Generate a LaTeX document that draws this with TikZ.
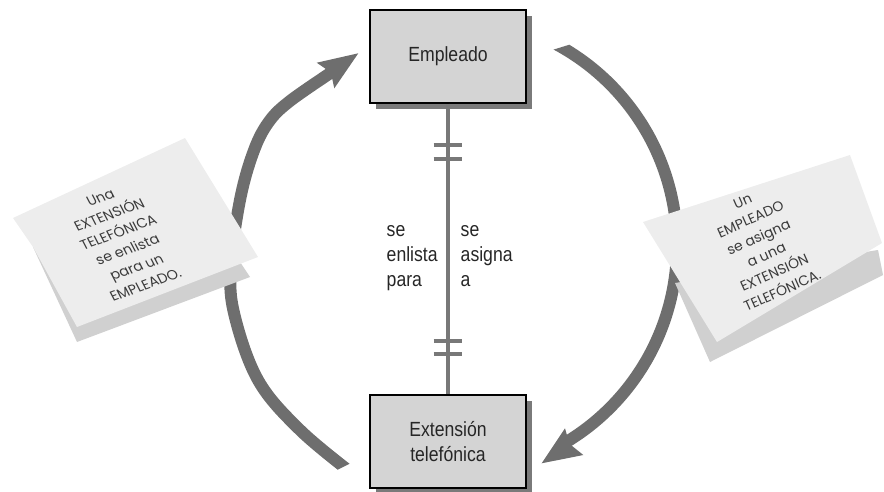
\documentclass[tikz,border=0pt]{standalone}
\usepackage{fontspec}
\setmainfont[FakeStretch=0.86]{Liberation Sans}
\newfontfamily\notefont{Poppins}
\usetikzlibrary{shadows}
\definecolor{boxfill}{HTML}{D4D4D4}
\definecolor{boxshadow}{HTML}{7A7A7A}
\definecolor{arcgray}{HTML}{6E6E6E}
\definecolor{linegray}{HTML}{787878}
\definecolor{notefront}{HTML}{EDEDED}
\definecolor{noteshadow}{HTML}{D0D0D0}
\definecolor{notetext}{HTML}{3A3A3A}
\begin{document}
\begin{tikzpicture}[x=1pt,y=-1pt,
  entity/.style={draw=black, line width=1.1pt, fill=boxfill, minimum width=156pt,
    minimum height=93pt, inner sep=0pt, font=\fontsize{20.5}{25}\selectfont,
    text=black!85, align=center,
    drop shadow={shadow xshift=6pt, shadow yshift=-6pt, fill=boxshadow, opacity=1}},
  relabel/.style={anchor=base west, inner sep=0pt, font=\fontsize{20.5}{25}\selectfont, text=black!85},
  flowarc/.style={draw=arcgray, line width=12pt},
  arrowhead/.style={fill=arcgray},
  notesheet/.style={fill=notefront},
  noteshade/.style={fill=noteshadow},
  notetxt/.style={font=\notefont\fontsize{14}{19.5}\selectfont, text=notetext, align=center, inner sep=0pt},
  rel/.style={draw=linegray, line width=3.5pt},
]
\useasboundingbox (0,0) rectangle (884,492);

% left arc (bottom -> top)
\begin{scope}
  \clip (200,538.5) -- (420,428.5) -- (420,0) -- (200,0) -- cycle;
  \draw[flowarc] plot[smooth, tension=0.6] coordinates {(353,474) (300,430) (258,380) (234,313) (231,265) (240,200) (253,153) (268,123) (290,101) (338,68)};
\end{scope}
\fill[arrowhead] (358.3,53.3) -- (316.7,62.7) -- (330.8,72.4) -- (334.3,88.3) -- cycle;

% right arc (top -> bottom)
\begin{scope}
  \clip (480,72.4) -- (900,-57.8) -- (900,500) -- (480,500) -- cycle;
  \draw[flowarc] plot[domain=-65:59.5, samples=60, smooth] ({448+229*cos(\x)},{246+229*sin(\x)});
\end{scope}
\fill[arrowhead] (541.7,463.3) -- (565,428.3) -- (569.4,443.8) -- (583.3,455) -- cycle;

% left note
\fill[noteshade] (33,247) -- (77,342) -- (250,277) -- (240,262) -- cycle;
\fill[notesheet] (13,218) -- (185,138) -- (258,257) -- (77,327) -- (33,247) -- cycle;
\node[notetxt, rotate=20, xslant=-0.13] (note1) at (123,241)
  {Una\\EXTENSIÓN\\TELEFÓNICA\\se enlista\\para un\\EMPLEADO.};

% right note
\fill[noteshade] (675,283) -- (710,362) -- (883,275) -- (878,250) -- cycle;
\fill[notesheet] (643,222) -- (850,155) -- (882,243) -- (717,342) -- cycle;
\node[notetxt, rotate=24] (note2) at (762.5,246)
  {Un\\EMPLEADO\\se asigna\\a una\\EXTENSIÓN\\TELEFÓNICA.};

% entities
\node[entity] (emp) at (448,56.5) {Empleado};
\node[entity] (ext) at (448,441.5) {Extensión\\telefónica};

% relationship line
\draw[rel] (emp.south) -- (ext.north);
\draw[rel] (433.5,145) -- (462,145);
\draw[rel] (433.5,159) -- (462,159);
\draw[rel] (433.5,341) -- (462,341);
\draw[rel] (433.5,354) -- (462,354);

% relationship labels
\node[relabel] (l1) at (386.5,236.7) {se};
\node[relabel] (l2) at (386.5,261.7) {enlista};
\node[relabel] (l3) at (386.5,286.7) {para};
\node[relabel] (r1) at (460.5,236.7) {se};
\node[relabel] (r2) at (460.5,261.7) {asigna};
\node[relabel] (r3) at (460.5,286.7) {a};
\end{tikzpicture}
\end{document}
